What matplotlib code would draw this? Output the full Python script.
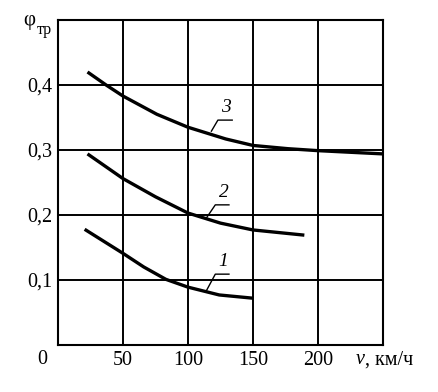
import matplotlib
matplotlib.use('Agg')
import matplotlib.pyplot as plt

# data
v1 = [20.5, 50, 66, 83, 100, 124, 150]
phi1 = [0.178, 0.141, 0.120, 0.101, 0.089, 0.077, 0.072]

v2 = [22.7, 50, 75, 100, 125, 150, 189.5]
phi2 = [0.294, 0.256, 0.228, 0.203, 0.1875, 0.177, 0.169]

v3 = [22.7, 37, 50, 76, 100, 129, 150, 177, 200, 250]
phi3 = [0.420, 0.400, 0.383, 0.355, 0.335, 0.317, 0.307, 0.302, 0.299, 0.294]

x_ticks = [50, 100, 150, 200]
y_ticks = [0.1, 0.2, 0.3, 0.4]
y_labels = ['0,1', '0,2', '0,3', '0,4']

plt.rcParams['font.family'] = ['Liberation Serif', 'DejaVu Serif']

fig = plt.figure(figsize=(4.39, 3.92), dpi=100)
ax = fig.add_axes([58 / 439, 47 / 392, 325 / 439, 325 / 392])

ax.set_xlim(0, 250)
ax.set_ylim(0, 0.5)

for x in x_ticks:
    ax.axvline(x, color='black', lw=1.4)
for y in y_ticks:
    ax.axhline(y, color='black', lw=1.4)

for vv, pp in [(v1, phi1), (v2, phi2), (v3, phi3)]:
    ax.plot(vv, pp, color='black', lw=2.4, solid_capstyle='butt',
            solid_joinstyle='round')

for s in ax.spines.values():
    s.set_linewidth(1.5)

ax.set_xticks(x_ticks)
ax.set_xticklabels([str(t) for t in x_ticks], fontsize=14.5)
ax.set_yticks(y_ticks)
ax.set_yticklabels(y_labels, fontsize=14.5)
ax.tick_params(length=0, pad=4)

# curve labels with leader lines: (start on curve), (underline start), underline end, text
lead = dict(color='black', lw=1.0, clip_on=False)
for (sx, sy), (ux, uy), ex, txt in [((118, 0.329), (123, 0.346), 134, '3'),
                                    ((114, 0.195), (121, 0.2156), 131.5, '2'),
                                    ((114, 0.083), (121, 0.109), 131.5, '1')]:
    ax.plot([sx, ux, ex], [sy, uy, uy], **lead)
    ax.text((ux + ex) / 2 + 1, uy + 0.006, txt, fontsize=14, style='italic',
            ha='center', va='bottom')

fig.text(42 / 439, 1 - 359 / 392, '0', fontsize=14.5, ha='center', va='center')
fig.text(360 / 439, 1 - 360 / 392, 'v', fontsize=14.5, style='italic',
         ha='center', va='center')
fig.text(365 / 439, 1 - 360 / 392, ', км/ч', fontsize=14.5,
         ha='left', va='center')
fig.text(29 / 439, 1 - 20 / 392, 'φ', fontsize=15, ha='center', va='center')
fig.text(44 / 439, 1 - 30 / 392, 'тр', fontsize=11.5, ha='center', va='center')

fig.savefig('out.png', dpi=100)
